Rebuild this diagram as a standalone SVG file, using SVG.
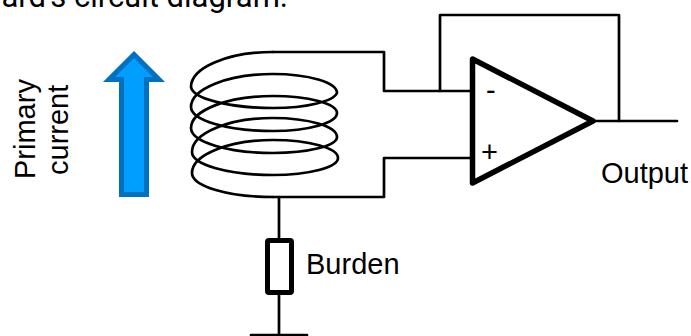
<svg xmlns="http://www.w3.org/2000/svg" width="691" height="336" viewBox="0 0 691 336">
<style>
text{font-family:"Liberation Sans",Arial,sans-serif;font-size:29px;fill:#000}
.w{fill:none;stroke:#000;stroke-width:2.700;stroke-linejoin:round;stroke-linecap:round}
.t{fill:none;stroke:#000;stroke-width:5.500;stroke-linejoin:round}
</style>
<rect width="691" height="336" fill="#fff"/>
<text id="caption" x="288" y="7" text-anchor="end" style="font-family:Roboto,sans-serif;font-size:31px">ard's circuit diagram.</text>
<g id="primary-arrow"><path d="M121.500 194.500V79.500H109L134 54.500L159 79.500H146.500V194.500Z" fill="#009fff" stroke="#0070c0" stroke-width="5"/></g>
<g id="primary-label"><text transform="translate(35 179) rotate(-90)">Primary</text><text transform="translate(68 175) rotate(-90)">current</text></g>
<g id="coil"><path class="w" d="M273 52A82 35 0 0 0 191 87A82 22 0 0 0 273 108A64 17 0 0 0 337 93A64 19 0 0 0 273 74A82 33 0 0 0 191 107A82 24 0 0 0 273 131A64 18 0 0 0 337 113A64 17 0 0 0 273 96A82 32 0 0 0 191 128A82 25 0 0 0 273 153A64 16 0 0 0 337 137A64 19 0 0 0 273 118A81 34 0 0 0 192 152A81 23 0 0 0 273 175A65 17 0 0 0 338 158A65 18 0 0 0 273 140A81 33 0 0 0 192 173A81 24 0 0 0 273 197"/></g>
<g id="connectors">
<path class="w" d="M273 52H384V91H472"/>
<path class="w" d="M273 197H384V158H472"/>
<path class="w" d="M440 91V15H619V121"/>
<path class="w" d="M594 121H677"/>
<path class="w" d="M279 197V240"/>
<path class="w" d="M279 294V335"/>
<path class="w" d="M251 335H307"/>
</g>
<g id="opamp"><path class="t" d="M472.500 59V183L593 121Z" fill="#fff"/><text x="486" y="100">-</text><text x="481" y="162">+</text></g>
<g id="burden"><rect x="267.500" y="240.500" width="24" height="52" fill="#fff" stroke="#000" stroke-width="5" rx="1.500"/><text x="306" y="274">Burden</text></g>
<g id="output"><text x="601" y="183">Output</text></g>
</svg>
